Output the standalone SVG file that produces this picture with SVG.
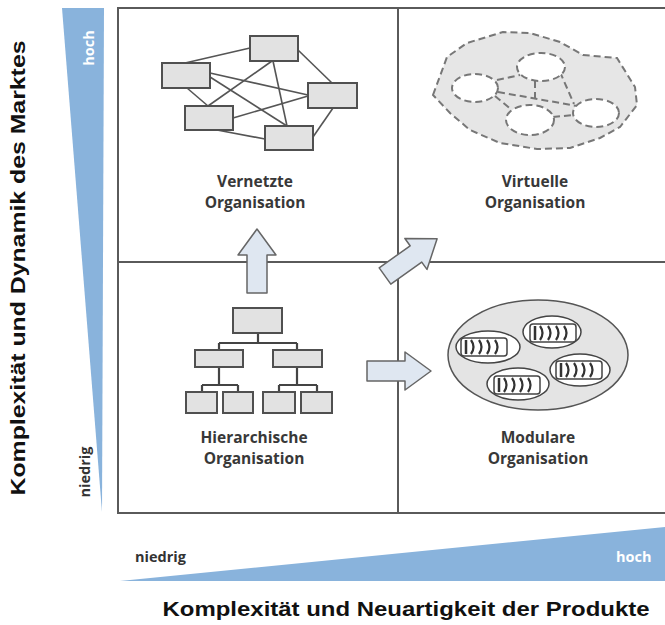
<svg xmlns="http://www.w3.org/2000/svg" xmlns:xlink="http://www.w3.org/1999/xlink" width="665" height="625" viewBox="0 0 665 625">
<style>
.frame{fill:none;stroke:#5a5a5a;stroke-width:2}
.tri{fill:#89b3dc}
.ax{font-family:"Liberation Sans",Arial,sans-serif;font-weight:bold;fill:#111}
.tick{font-family:"Open Sans","DejaVu Sans",sans-serif;font-weight:bold;font-size:14.5px}
.lbl{font-family:"Open Sans","DejaVu Sans",sans-serif;font-weight:bold;font-size:15.5px;fill:#383838;text-anchor:middle}
.box{fill:#e2e2e2;stroke:#505050;stroke-width:2}
.ln{stroke:#555;stroke-width:1.6;fill:none}
.hl{stroke:#444;stroke-width:2.2;fill:none}
.dash{stroke:#777;stroke-width:2;stroke-dasharray:7 4;fill:none}
.blob{fill:#e6e6e6}
.hole{fill:#fff}
.arrow{fill:#dfe7f1;stroke:#666;stroke-width:1.5;stroke-linejoin:round}
</style>
<defs>
<path id="arr" d="M0,-10 H38 V-19 L64,0 L38,19 V10 H0 Z"/>
<g id="bat">
<rect x="-23" y="-9" width="46" height="18" rx="3" fill="#fff" stroke="#444" stroke-width="1.5"/>
<path d="M-18,-7 V7" stroke="#333" stroke-width="2.5"/>
<path d="M-13,-7 q5,7 0,14 M-5,-7 q5,7 0,14 M3,-7 q5,7 0,14 M11,-7 q5,7 0,14" fill="none" stroke="#333" stroke-width="2.2"/>
</g>
</defs>
<rect width="665" height="625" fill="#fff"/>

<g id="axes">
<polygon class="tri" points="62,8 104,8 102,512"/>
<polygon class="tri" points="120,581 665,527 665,581"/>
<text class="tick" fill="#fff" transform="translate(94,48) rotate(-90)" text-anchor="middle">hoch</text>
<text class="tick" fill="#333" transform="translate(90,472) rotate(-90)" text-anchor="middle">niedrig</text>
<text class="tick" fill="#333" x="135" y="562">niedrig</text>
<text class="tick" fill="#fff" x="616" y="562">hoch</text>
<text class="ax" font-size="20" transform="translate(25,268) rotate(-90)" text-anchor="middle" textLength="455" lengthAdjust="spacingAndGlyphs">Komplexität und Dynamik des Marktes</text>
<text class="ax" font-size="20" x="406" y="616" text-anchor="middle" textLength="487" lengthAdjust="spacingAndGlyphs">Komplexität und Neuartigkeit der Produkte</text>
</g>

<g id="grid">
<rect class="frame" x="118" y="8" width="550" height="505"/>
<line class="frame" x1="398" y1="8" x2="398" y2="513"/>
<line class="frame" x1="118" y1="262" x2="665" y2="262"/>
</g>

<g id="vernetzte">
<g class="ln">
<line x1="250" y1="48" x2="185" y2="63"/>
<line x1="298" y1="50" x2="332" y2="83"/>
<line x1="272" y1="61" x2="208" y2="106"/>
<line x1="273" y1="61" x2="287" y2="126"/>
<line x1="210" y1="73" x2="308" y2="95"/>
<line x1="187" y1="88" x2="208" y2="106"/>
<line x1="210" y1="77" x2="287" y2="126"/>
<line x1="233" y1="118" x2="308" y2="96"/>
<line x1="217" y1="130" x2="265" y2="139"/>
<line x1="333" y1="108" x2="313" y2="137"/>
</g>
<rect class="box" x="250" y="36" width="48" height="25"/>
<rect class="box" x="162" y="63" width="48" height="25"/>
<rect class="box" x="308" y="83" width="49" height="25"/>
<rect class="box" x="185" y="106" width="48" height="24"/>
<rect class="box" x="265" y="126" width="48" height="24"/>
<text class="lbl" x="255" y="187">Vernetzte</text>
<text class="lbl" x="255" y="208">Organisation</text>
</g>

<g id="virtuelle">
<polygon class="dash blob" points="433,95 447,57 467,43 503,32 530,33 560,42 583,55 617,58 635,87 637,105 620,127 600,138 570,148 537,149 500,143 470,130 450,113"/>
<g class="dash">
<line x1="497" y1="80" x2="520" y2="75"/>
<line x1="495" y1="96" x2="512" y2="110"/>
<line x1="498" y1="92" x2="577" y2="106"/>
<line x1="535" y1="81" x2="535" y2="98"/>
<line x1="560" y1="72" x2="574" y2="104"/>
<line x1="553" y1="117" x2="574" y2="115"/>
</g>
<ellipse class="dash hole" cx="475" cy="88" rx="23" ry="14"/>
<ellipse class="dash hole" cx="541" cy="67" rx="24" ry="14"/>
<ellipse class="dash hole" cx="596" cy="113" rx="23" ry="14"/>
<ellipse class="dash hole" cx="530" cy="120" rx="24" ry="15"/>
<text class="lbl" x="535" y="187">Virtuelle</text>
<text class="lbl" x="535" y="208">Organisation</text>
</g>

<g id="hierarchische">
<g class="hl">
<path d="M258,333 V343 M219,343 H297 M219,343 V350 M297,343 V350"/>
<path d="M219,367 V385 M202,385 H238 M202,385 V392 M238,385 V392"/>
<path d="M297,367 V385 M279,385 H317 M279,385 V392 M317,385 V392"/>
</g>
<rect class="box" x="233" y="308" width="49" height="25"/>
<rect class="box" x="195" y="350" width="48" height="17"/>
<rect class="box" x="273" y="350" width="49" height="17"/>
<rect class="box" x="186" y="392" width="31" height="21"/>
<rect class="box" x="223" y="392" width="30" height="21"/>
<rect class="box" x="263" y="392" width="32" height="21"/>
<rect class="box" x="301" y="392" width="31" height="21"/>
<text class="lbl" x="254" y="443">Hierarchische</text>
<text class="lbl" x="254" y="464">Organisation</text>
</g>

<g id="modulare">
<ellipse cx="538" cy="355" rx="90" ry="55" fill="#e4e4e4" stroke="#555" stroke-width="1.5"/>
<ellipse cx="488" cy="347" rx="32" ry="16" fill="#fff" stroke="#444" stroke-width="1.5"/>
<ellipse cx="552" cy="332" rx="29" ry="16" fill="#fff" stroke="#444" stroke-width="1.5"/>
<ellipse cx="580" cy="370" rx="30" ry="16" fill="#fff" stroke="#444" stroke-width="1.5"/>
<ellipse cx="518" cy="384" rx="31" ry="16" fill="#fff" stroke="#444" stroke-width="1.5"/>
<use xlink:href="#bat" x="484" y="347"/>
<use xlink:href="#bat" x="553" y="333"/>
<use xlink:href="#bat" x="579" y="370"/>
<use xlink:href="#bat" x="517" y="385"/>
<text class="lbl" x="538" y="443">Modulare</text>
<text class="lbl" x="538" y="464">Organisation</text>
</g>

<g id="connectors">
<use xlink:href="#arr" class="arrow" transform="translate(257,293) rotate(-90)"/>
<use xlink:href="#arr" class="arrow" transform="translate(385,276) rotate(-35.5)"/>
<use xlink:href="#arr" class="arrow" transform="translate(367,371)"/>
</g>
</svg>
